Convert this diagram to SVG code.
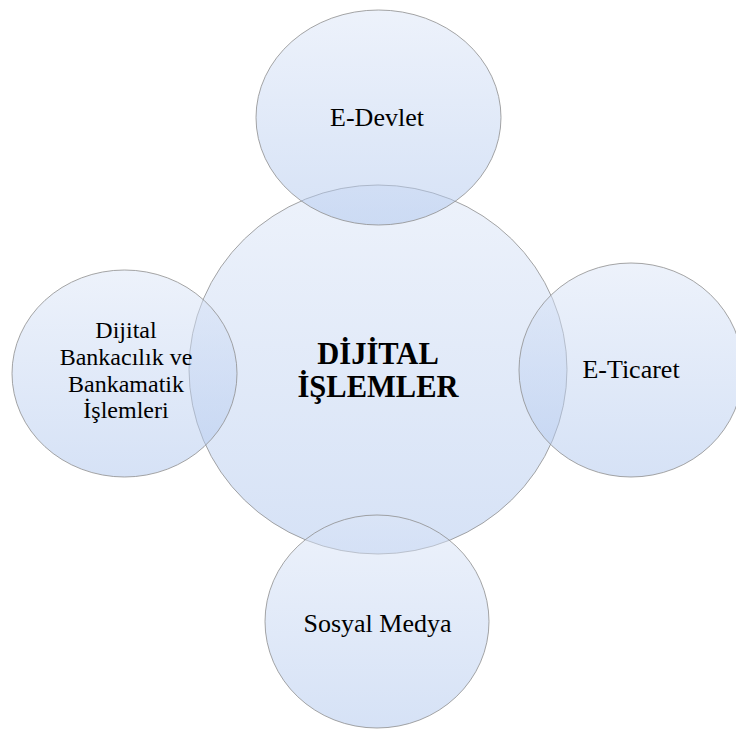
<svg xmlns="http://www.w3.org/2000/svg" width="736" height="729" viewBox="0 0 736 729">
  <defs>
    <linearGradient id="g" x1="0" y1="0" x2="0" y2="1">
      <stop offset="0" stop-color="#dbe5f7"/>
      <stop offset="1" stop-color="#adc5ed"/>
    </linearGradient>
    <style>
      .c { fill: url(#g); fill-opacity: 0.5; stroke: #8f8f8f; stroke-opacity: 0.8; stroke-width: 1; }
      .t { font-family: "Liberation Serif", "Times New Roman", serif; font-size: 26px; fill: #000; text-anchor: middle; }
      .s { font-size: 24px; }
      .b { font-weight: bold; font-size: 30.5px; }
    </style>
  </defs>
  <rect width="736" height="729" fill="#ffffff"/>
  <g id="connectors"/>
  <g id="center">
    <ellipse class="c" cx="378" cy="369.5" rx="189" ry="184.5"/>
    <text class="t b" x="378" y="364">DİJİTAL</text>
    <text class="t b" x="378" y="397">İŞLEMLER</text>
  </g>
  <g id="edevlet">
    <ellipse class="c" cx="378.5" cy="117.5" rx="122.5" ry="107.5"/>
    <text class="t" x="377" y="126">E-Devlet</text>
  </g>
  <g id="eticaret">
    <ellipse class="c" cx="631" cy="370" rx="112" ry="107"/>
    <text class="t" x="631" y="378">E-Ticaret</text>
  </g>
  <g id="sosyalmedya">
    <ellipse class="c" cx="377" cy="621.5" rx="112" ry="106.5"/>
    <text class="t" x="377.5" y="632">Sosyal Medya</text>
  </g>
  <g id="bankacilik">
    <ellipse class="c" cx="124.5" cy="373.5" rx="112.5" ry="103.5"/>
    <text class="t s" x="126" y="338">Dijital</text>
    <text class="t s" x="126" y="365">Bankacılık ve</text>
    <text class="t s" x="126" y="391.5">Bankamatik</text>
    <text class="t s" x="126" y="418">İşlemleri</text>
  </g>
</svg>
